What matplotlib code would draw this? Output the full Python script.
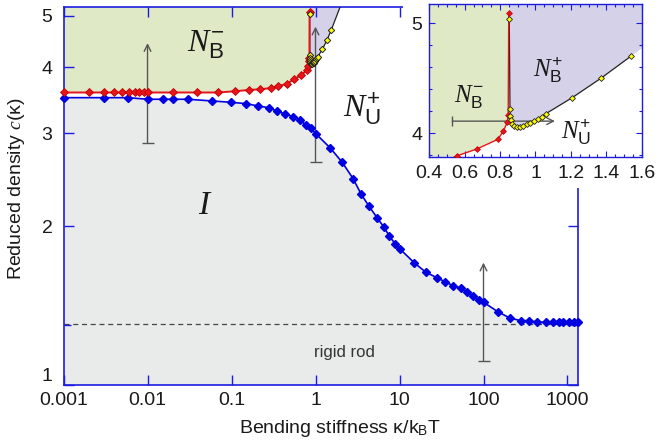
import matplotlib
matplotlib.use('Agg')
import matplotlib.pyplot as plt
from matplotlib.patches import Rectangle
from matplotlib.ticker import FixedLocator, NullFormatter

plt.rcParams['font.family'] = ['Liberation Sans', 'DejaVu Sans']
plt.rcParams['mathtext.fontset'] = 'custom'
plt.rcParams['mathtext.rm'] = 'Liberation Sans'
plt.rcParams['mathtext.sf'] = 'Liberation Sans'
plt.rcParams['mathtext.it'] = 'Liberation Serif:italic'

# isotropic boundary (blue)
blue_x = [0.001, 0.00306, 0.0059, 0.01, 0.0152, 0.0203, 0.0303, 0.059, 0.0986, 0.15,
          0.208, 0.282, 0.351, 0.436, 0.545, 0.654, 0.77, 0.877, 1.01, 1.5,
          2.08, 2.82, 3.48, 4.34, 5.45, 6.53, 7.56, 8.84, 10.1, 14.9,
          20.6, 27.7, 34.9, 43.4, 54, 64.1, 75.6, 88.3, 100.5, 147.5,
          206, 277, 349, 437, 550, 666, 785, 891, 1032, 1194, 1342]
blue_y = [3.50, 3.50, 3.50, 3.476, 3.476, 3.476, 3.476, 3.45, 3.43, 3.41,
          3.375, 3.35, 3.30, 3.26, 3.22, 3.17, 3.11, 3.06, 2.99, 2.81,
          2.64, 2.455, 2.30, 2.18, 2.07, 1.99, 1.915, 1.852, 1.81, 1.705,
          1.635, 1.597, 1.569, 1.542, 1.526, 1.498, 1.476, 1.451, 1.434, 1.377,
          1.339, 1.324, 1.324, 1.315, 1.315, 1.315, 1.315, 1.315, 1.315, 1.315, 1.315]

# N_B^- boundary (red)
red_x = [0.001, 0.002, 0.003, 0.004, 0.005, 0.006, 0.007, 0.008, 0.009, 0.01,
         0.02, 0.039, 0.069, 0.111, 0.161, 0.218, 0.293, 0.358, 0.458, 0.555,
         0.669, 0.788, 0.818, 0.841, 0.846, 0.849]
red_y = [3.58, 3.58, 3.58, 3.58, 3.58, 3.58, 3.58, 3.58, 3.58, 3.58,
         3.58, 3.58, 3.58, 3.60, 3.62, 3.63, 3.65, 3.68, 3.72, 3.794,
         3.857, 3.945, 4.018, 4.10, 4.166, 5.09]

# N_B^+ boundary (yellow)
yel_x = [0.852, 0.856, 0.858, 0.86, 0.866, 0.878, 0.893, 0.912, 0.931, 0.95,
         0.969, 0.991, 1.016, 1.037, 1.059, 1.208, 1.37, 1.539]
yel_y = [5.036, 4.218, 4.158, 4.12, 4.085, 4.066, 4.054, 4.06, 4.069, 4.08,
         4.095, 4.113, 4.134, 4.152, 4.178, 4.324, 4.50, 4.70]
# where the N_B^+ edge leaves the top of the frame
edge_x, edge_y = 2.0, 5.24

rigid_rod = 1.305

arrow_x = [0.01, 1.0, 100]
arrow_lo = [2.876, 2.64, 1.112]
arrow_hi = [4.44, 4.77, 1.705]

xticks = [0.001, 0.01, 0.1, 1, 10, 100, 1000]
xlabels = ['0.001', '0.01', '0.1', '1', '10', '100', '1000']
yticks = [1, 2, 3, 4, 5]

in_xticks = [0.4, 0.6, 0.8, 1.0, 1.2, 1.4, 1.6]
in_xlabels = ['0.4', '0.6', '0.8', '1', '1.2', '1.4', '1.6']

GREEN = '#e0e9c6'
PURPLE = '#d4d1e8'
GREY = '#e9eaea'
BLUE = '#0000e0'
RED = '#e8141c'
SPINE = '#1c1ce0'
ARROW = '#555555'
TXT = '#1a1a1a'

fig = plt.figure(figsize=(6.59, 4.46), dpi=100)
ax = fig.add_axes([0.0964, 0.1368, 0.7807, 0.8468])
ax.set_xscale('log')
ax.set_yscale('log')
ax.set_xlim(0.001, 1334)
ax.set_ylim(1, 5.19)


def draw_phases(a, main):
    a.fill_between(blue_x, 0.5, blue_y, color=GREY, lw=0, zorder=0)
    a.fill_between(red_x, red_y, 8, color=GREEN, lw=0, zorder=0)
    a.fill([yel_x[0]] + yel_x + [edge_x, edge_x], [8] + yel_y + [edge_y, 8],
           color=PURPLE, lw=0, zorder=0)
    if main:
        a.plot(yel_x + [edge_x], yel_y + [edge_y], color='#222222', lw=0.9, zorder=3)
    else:
        a.plot(yel_x, yel_y, color='#222222', lw=0.9, zorder=3)


draw_phases(ax, True)
ax.axhline(rigid_rod, color='#444444', lw=0.9, ls=(0, (4, 3)), zorder=1)
ax.text(2.24, 1.151, 'rigid rod', fontsize=12, color='#333333', ha='center', va='center')

for xa, lo, hi in zip(arrow_x, arrow_lo, arrow_hi):
    ax.annotate('', xy=(xa, hi), xytext=(xa, lo),
                arrowprops=dict(arrowstyle='->', color=ARROW, lw=1, shrinkA=0, shrinkB=0,
                                mutation_scale=12), zorder=2)
    ax.plot([xa], [lo], marker='_', ms=8, mew=1, color=ARROW, zorder=2)

ax.plot(blue_x, blue_y, color=BLUE, lw=1.2, marker='D', ms=4.2, mec=BLUE, zorder=4, clip_on=False)
ax.plot(red_x, red_y, color=RED, lw=1.4, marker='D', ms=4.2, mec='#c00000', mew=0.6, zorder=4, clip_on=False)
ax.plot(yel_x, yel_y, ls='none', marker='D', ms=3.2, mfc='#ffff00', mec='#222222', mew=0.7, zorder=5)

ax.text(0.05, 4.4, r'$N_{\rm B}^{-}$', fontsize=23, color=TXT, ha='center', va='center')
ax.text(3.58, 3.33, r'$N_{\rm U}^{+}$', fontsize=23, color=TXT, ha='center', va='center')
ax.text(0.0484, 2.19, r'$I$', fontsize=24, color=TXT, ha='center', va='center')

ax.set_xticks(xticks)
ax.set_xticklabels(xlabels)
ax.xaxis.set_minor_locator(FixedLocator([]))
ax.set_yticks(yticks)
ax.set_yticklabels([str(t) for t in yticks])
ax.yaxis.set_minor_locator(FixedLocator([1.3]))
ax.yaxis.set_minor_formatter(NullFormatter())
ax.tick_params(which='both', direction='in', top=True, right=True, color=SPINE,
               labelcolor=TXT, width=1)
ax.tick_params(axis='both', which='major', length=7, labelsize=14)
ax.tick_params(axis='x', which='major', pad=5)
ax.tick_params(axis='y', which='major', pad=8)
ax.tick_params(axis='y', which='minor', length=5)
# the "1" sits just above the corner
ax.yaxis.get_major_ticks()[0].label1.set_va('bottom')
for s in ax.spines.values():
    s.set_color(SPINE)
    s.set_linewidth(1.2)

ax.set_xlabel('Bending stiffness κ/k$_{\\rm B}$T', fontsize=14, color=TXT, va='center')
ax.xaxis.set_label_coords(0.537, -0.114)
ax.set_ylabel('Reduced density $c$(κ)', fontsize=14, color=TXT, va='center')
ax.yaxis.set_label_coords(-0.092, 0.52)

# white box behind the inset
fig.add_artist(Rectangle((0.6115, 0.5785), 0.3885, 0.4215, transform=fig.transFigure,
                         facecolor='white', edgecolor='none', zorder=2))

ax2 = fig.add_axes([0.6514, 0.6487, 0.3223, 0.3424])
ax2.set_zorder(3)
ax2.set_xlim(0.4, 1.6)
ax2.set_ylim(3.787, 5.175)
draw_phases(ax2, False)
ax2.annotate('', xy=(1.11, 4.11), xytext=(0.53, 4.11),
             arrowprops=dict(arrowstyle='->', color=ARROW, lw=1, shrinkA=0, shrinkB=0,
                             mutation_scale=12), zorder=2)
ax2.plot([0.53], [4.11], marker='|', ms=7, mew=1, color=ARROW, zorder=2)
ax2.plot(red_x, red_y, color=RED, lw=1, marker='D', ms=3, mec='#c00000', mew=0.5, zorder=4)
ax2.plot(yel_x, yel_y, ls='none', marker='D', ms=3, mfc='#ffff00', mec='#222222', mew=0.6, zorder=5)

ax2.text(0.625, 4.33, r'$N_{\rm B}^{-}$', fontsize=18, color=TXT, ha='center', va='center')
ax2.text(1.07, 4.58, r'$N_{\rm B}^{+}$', fontsize=18, color=TXT, ha='center', va='center')
ax2.text(1.23, 4.01, r'$N_{\rm U}^{+}$', fontsize=18, color=TXT, ha='center', va='center')

ax2.set_xticks(in_xticks)
ax2.set_xticklabels(in_xlabels)
ax2.set_xticks([0.45, 0.5, 0.55, 0.65, 0.7, 0.75, 0.85, 0.9, 0.95, 1.05, 1.1, 1.15,
                1.25, 1.3, 1.35, 1.45, 1.5, 1.55], minor=True)
ax2.set_yticks([4, 5])
ax2.set_yticklabels(['4', '5'])
ax2.set_yticks([3.8, 4.2, 4.4, 4.6, 4.8], minor=True)
ax2.tick_params(which='both', direction='in', top=True, right=True, color=SPINE,
                labelcolor=TXT, width=0.8)
ax2.tick_params(which='major', length=4, labelsize=14)
ax2.tick_params(axis='x', which='major', pad=6)
ax2.tick_params(axis='y', which='major', pad=5)
ax2.tick_params(which='minor', length=2.5)
for s in ax2.spines.values():
    s.set_color(SPINE)
    s.set_linewidth(1.0)

fig.savefig('out.png', dpi=100)
